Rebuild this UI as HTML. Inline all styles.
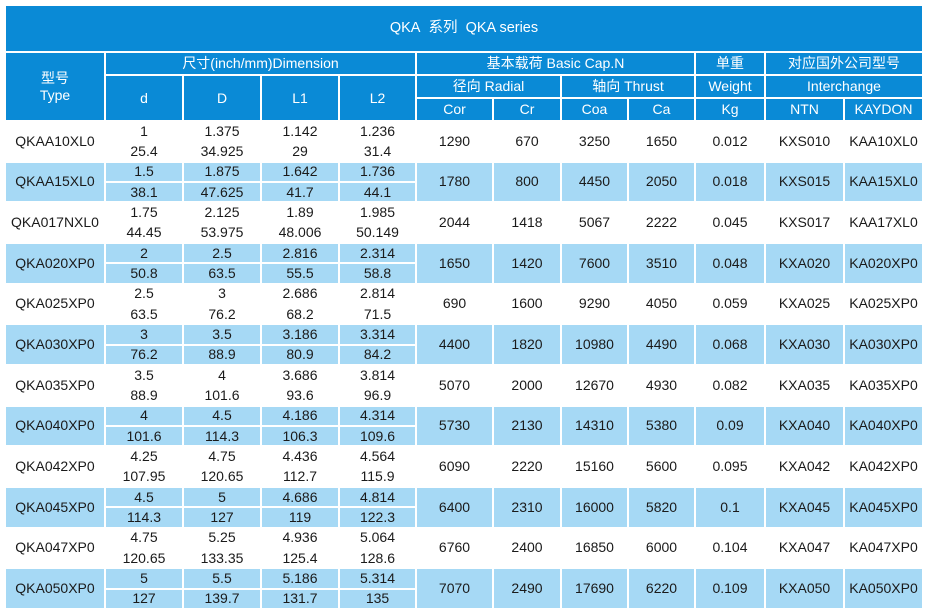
<!DOCTYPE html>
<html><head><meta charset="utf-8"><style>
html,body{margin:0;padding:0;background:#fff;width:930px;height:614px;overflow:hidden}
.g{position:absolute;left:6px;top:6px;width:918px;display:grid;gap:2px;background:#fff;
grid-template-columns:98px 76px 76px 76px 75px 75px 66px 65px 65px 68px 77px 77px;
grid-template-rows:45px 21px 21px 21px repeat(24,18.33px);
font-family:"Liberation Sans","Noto Sans CJK SC",sans-serif;font-size:14px;color:#1a1a1a}
.g>div{display:flex;align-items:center;justify-content:center;text-align:center;line-height:17px;white-space:nowrap}
.h{background:#0a8ad6;color:#fff}
.t{grid-column:span 12;font-size:14.5px}
.c2{grid-column:span 2}.c4{grid-column:span 4}.r2{grid-row:span 2}.r3{grid-row:span 3}
.L{background:#a6d9f5}
.W{background:#fff}
</style></head><body>
<div class="g">
<div class="h t">QKA&nbsp; 系列&nbsp; QKA series</div>
<div class="h r3">型号<br>Type</div>
<div class="h c4">尺寸(inch/mm)Dimension</div>
<div class="h c4">基本载荷 Basic Cap.N</div>
<div class="h">单重</div>
<div class="h c2">对应国外公司型号</div>
<div class="h r2">d</div><div class="h r2">D</div><div class="h r2">L1</div><div class="h r2">L2</div>
<div class="h c2">径向 Radial</div><div class="h c2">轴向 Thrust</div><div class="h">Weight</div><div class="h c2">Interchange</div>
<div class="h">Cor</div><div class="h">Cr</div><div class="h">Coa</div><div class="h">Ca</div><div class="h">Kg</div><div class="h">NTN</div><div class="h">KAYDON</div>

<div class="W r2">QKAA10XL0</div><div class="W">1</div><div class="W">1.375</div><div class="W">1.142</div><div class="W">1.236</div><div class="W r2">1290</div><div class="W r2">670</div><div class="W r2">3250</div><div class="W r2">1650</div><div class="W r2">0.012</div><div class="W r2">KXS010</div><div class="W r2">KAA10XL0</div><div class="W">25.4</div><div class="W">34.925</div><div class="W">29</div><div class="W">31.4</div>

<div class="L r2">QKAA15XL0</div><div class="L">1.5</div><div class="L">1.875</div><div class="L">1.642</div><div class="L">1.736</div><div class="L r2">1780</div><div class="L r2">800</div><div class="L r2">4450</div><div class="L r2">2050</div><div class="L r2">0.018</div><div class="L r2">KXS015</div><div class="L r2">KAA15XL0</div><div class="L">38.1</div><div class="L">47.625</div><div class="L">41.7</div><div class="L">44.1</div>

<div class="W r2">QKA017NXL0</div><div class="W">1.75</div><div class="W">2.125</div><div class="W">1.89</div><div class="W">1.985</div><div class="W r2">2044</div><div class="W r2">1418</div><div class="W r2">5067</div><div class="W r2">2222</div><div class="W r2">0.045</div><div class="W r2">KXS017</div><div class="W r2">KAA17XL0</div><div class="W">44.45</div><div class="W">53.975</div><div class="W">48.006</div><div class="W">50.149</div>

<div class="L r2">QKA020XP0</div><div class="L">2</div><div class="L">2.5</div><div class="L">2.816</div><div class="L">2.314</div><div class="L r2">1650</div><div class="L r2">1420</div><div class="L r2">7600</div><div class="L r2">3510</div><div class="L r2">0.048</div><div class="L r2">KXA020</div><div class="L r2">KA020XP0</div><div class="L">50.8</div><div class="L">63.5</div><div class="L">55.5</div><div class="L">58.8</div>

<div class="W r2">QKA025XP0</div><div class="W">2.5</div><div class="W">3</div><div class="W">2.686</div><div class="W">2.814</div><div class="W r2">690</div><div class="W r2">1600</div><div class="W r2">9290</div><div class="W r2">4050</div><div class="W r2">0.059</div><div class="W r2">KXA025</div><div class="W r2">KA025XP0</div><div class="W">63.5</div><div class="W">76.2</div><div class="W">68.2</div><div class="W">71.5</div>

<div class="L r2">QKA030XP0</div><div class="L">3</div><div class="L">3.5</div><div class="L">3.186</div><div class="L">3.314</div><div class="L r2">4400</div><div class="L r2">1820</div><div class="L r2">10980</div><div class="L r2">4490</div><div class="L r2">0.068</div><div class="L r2">KXA030</div><div class="L r2">KA030XP0</div><div class="L">76.2</div><div class="L">88.9</div><div class="L">80.9</div><div class="L">84.2</div>

<div class="W r2">QKA035XP0</div><div class="W">3.5</div><div class="W">4</div><div class="W">3.686</div><div class="W">3.814</div><div class="W r2">5070</div><div class="W r2">2000</div><div class="W r2">12670</div><div class="W r2">4930</div><div class="W r2">0.082</div><div class="W r2">KXA035</div><div class="W r2">KA035XP0</div><div class="W">88.9</div><div class="W">101.6</div><div class="W">93.6</div><div class="W">96.9</div>

<div class="L r2">QKA040XP0</div><div class="L">4</div><div class="L">4.5</div><div class="L">4.186</div><div class="L">4.314</div><div class="L r2">5730</div><div class="L r2">2130</div><div class="L r2">14310</div><div class="L r2">5380</div><div class="L r2">0.09</div><div class="L r2">KXA040</div><div class="L r2">KA040XP0</div><div class="L">101.6</div><div class="L">114.3</div><div class="L">106.3</div><div class="L">109.6</div>

<div class="W r2">QKA042XP0</div><div class="W">4.25</div><div class="W">4.75</div><div class="W">4.436</div><div class="W">4.564</div><div class="W r2">6090</div><div class="W r2">2220</div><div class="W r2">15160</div><div class="W r2">5600</div><div class="W r2">0.095</div><div class="W r2">KXA042</div><div class="W r2">KA042XP0</div><div class="W">107.95</div><div class="W">120.65</div><div class="W">112.7</div><div class="W">115.9</div>

<div class="L r2">QKA045XP0</div><div class="L">4.5</div><div class="L">5</div><div class="L">4.686</div><div class="L">4.814</div><div class="L r2">6400</div><div class="L r2">2310</div><div class="L r2">16000</div><div class="L r2">5820</div><div class="L r2">0.1</div><div class="L r2">KXA045</div><div class="L r2">KA045XP0</div><div class="L">114.3</div><div class="L">127</div><div class="L">119</div><div class="L">122.3</div>

<div class="W r2">QKA047XP0</div><div class="W">4.75</div><div class="W">5.25</div><div class="W">4.936</div><div class="W">5.064</div><div class="W r2">6760</div><div class="W r2">2400</div><div class="W r2">16850</div><div class="W r2">6000</div><div class="W r2">0.104</div><div class="W r2">KXA047</div><div class="W r2">KA047XP0</div><div class="W">120.65</div><div class="W">133.35</div><div class="W">125.4</div><div class="W">128.6</div>

<div class="L r2">QKA050XP0</div><div class="L">5</div><div class="L">5.5</div><div class="L">5.186</div><div class="L">5.314</div><div class="L r2">7070</div><div class="L r2">2490</div><div class="L r2">17690</div><div class="L r2">6220</div><div class="L r2">0.109</div><div class="L r2">KXA050</div><div class="L r2">KA050XP0</div><div class="L">127</div><div class="L">139.7</div><div class="L">131.7</div><div class="L">135</div>
</div>
</body></html>
